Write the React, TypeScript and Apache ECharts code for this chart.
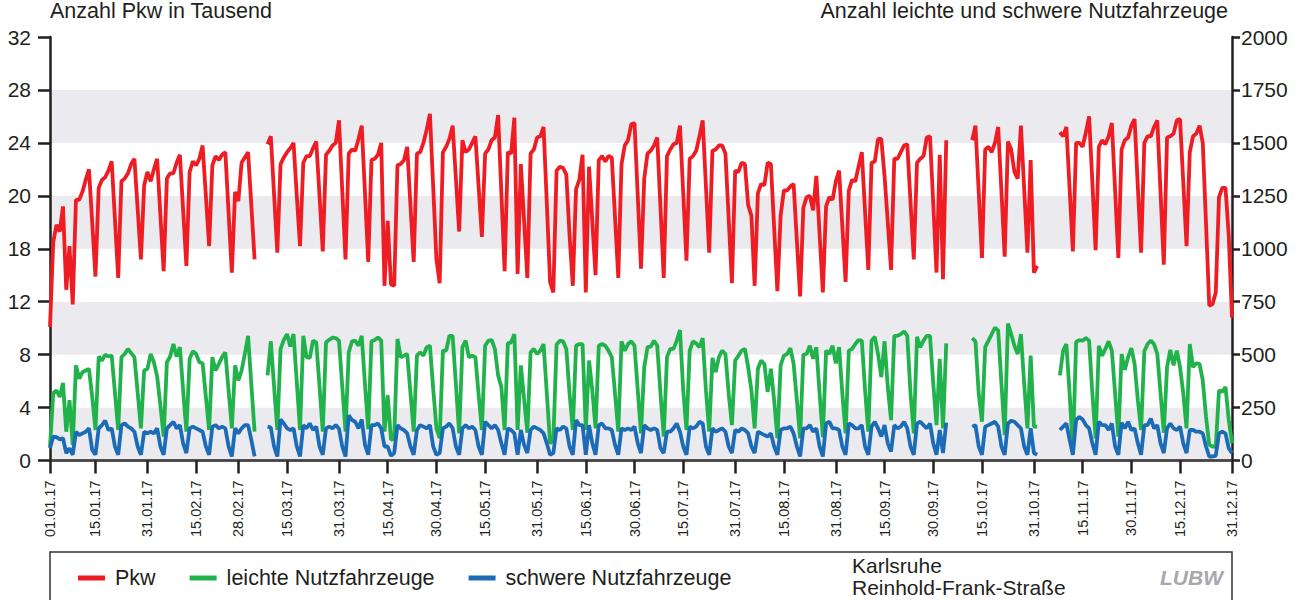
import React, { useEffect, useRef } from 'react';
import * as echarts from 'echarts';

// Pkw in Tausend (left axis), one value per day of 2017
const pkw: (number | null)[] = [
  // Jan
  10.1, 16.5, 17.8, 17.3, 19.2, 12.9, 16.2, 11.8, 19.7, 19.7, 20.3, 21.2, 22.0, 18.0, 13.9, 20.6, 21.2, 21.4, 21.9, 22.6, 18.2, 13.8, 21.1, 21.3, 21.7, 22.4, 22.8, 19.0, 15.2, 20.8, 21.8,
  // Feb
  21.1, 22.0, 22.8, 18.5, 14.3, 21.3, 21.7, 21.7, 22.5, 23.1, 18.9, 14.7, 21.8, 22.6, 22.3, 22.8, 23.8, 20.0, 16.2, 22.3, 23.0, 22.7, 23.1, 23.3, 18.7, 14.2, 20.3, 19.6,
  // Mar
  22.5, 22.9, 23.3, 19.3, 15.2, null, null, null, 23.9, 24.5, 20.1, 15.7, 22.4, 22.9, 23.3, 23.6, 24.0, 20.0, 16.2, 22.5, 23.0, 23.0, 23.6, 24.1, 20.0, 15.8, 23.1, 23.4, 23.8, 24.0, 25.7,
  // Apr
  20.4, 15.2, 23.2, 23.5, 23.4, 24.3, 25.3, 20.2, 15.0, 22.7, 22.8, 23.1, 24.0, 13.2, 18.1, 13.3, 13.2, 22.3, 22.4, 22.7, 23.7, 19.3, 15.0, 23.2, 23.3, 24.0, 25.0, 26.2, 20.7, 15.2,
  // May
  13.4, 23.3, 23.7, 24.3, 25.3, 21.3, 17.3, 24.2, 23.3, 23.5, 24.0, 24.5, 20.7, 16.9, 23.2, 23.5, 24.2, 24.4, 26.1, 20.2, 14.3, 23.3, 23.2, 25.9, 14.1, 22.4, 18.1, 13.8, 23.2, 23.5, 24.4,
  // Jun
  24.5, 25.2, 19.4, 13.5, 12.7, 21.9, 22.2, 22.1, 21.6, 17.0, 13.2, 20.5, 21.2, 23.1, 12.7, 22.2, 18.1, 14.0, 22.7, 23.0, 22.6, 23.0, 22.9, 18.4, 13.8, 22.4, 23.8, 24.2, 25.4, 25.5,
  // Jul
  20.0, 14.5, 21.3, 23.2, 23.4, 23.8, 24.4, 19.1, 13.8, 23.0, 23.5, 23.9, 24.0, 25.3, 20.2, 15.1, 22.8, 23.0, 23.4, 24.5, 25.7, 20.7, 15.7, 23.4, 23.5, 23.8, 23.8, 23.2, 18.3, 13.4, 21.9,
  // Aug
  21.8, 22.5, 22.4, 19.3, 18.5, 13.2, 20.2, 20.9, 20.8, 22.5, 22.4, 17.6, 12.8, 18.5, 20.4, 20.4, 20.7, 20.9, 16.6, 12.4, 19.1, 19.9, 20.0, 18.9, 21.5, 17.1, 12.7, 19.2, 19.9, 19.7, 21.1,
  // Sep
  21.9, 17.7, 13.5, 20.4, 21.2, 21.1, 22.2, 23.3, 18.8, 14.4, 22.5, 22.6, 24.3, 24.3, 21.5, 18.0, 14.4, 22.8, 22.8, 23.3, 23.8, 23.9, 19.5, 15.2, 22.5, 22.8, 23.0, 24.4, 24.5, 19.4,
  // Oct
  14.2, 23.1, 13.7, 24.2, null, null, null, null, null, null, null, 24.2, 25.3, 20.3, 15.3, 23.5, 23.7, 23.3, 24.0, 25.2, 20.3, 15.4, 24.1, 23.5, 21.8, 21.3, 25.3, 20.5, 15.7, 22.7, 14.2,
  // Nov
  14.7, null, null, null, null, null, null, 24.8, 24.5, 25.2, 20.5, 15.8, 24.0, 24.0, 23.7, 24.8, 26.0, 21.0, 15.9, 23.7, 24.2, 23.9, 24.5, 25.5, 20.4, 15.3, 23.5, 24.2, 24.4, 25.3,
  // Dec
  25.8, 20.7, 15.7, 24.0, 24.5, 24.5, 25.2, 25.7, 20.2, 14.8, 24.4, 24.5, 24.7, 25.7, 25.8, 21.0, 16.2, 23.3, 24.5, 24.7, 25.3, 24.0, 17.9, 11.7, 11.8, 12.7, 19.9, 20.6, 20.6, 17.0, 10.8,
];

// leichte Nutzfahrzeuge (right axis)
const lnf: (number | null)[] = [
  // Jan
  66, 319, 331, 300, 366, 136, 285, 74, 449, 386, 417, 425, 433, 300, 144, 491, 472, 500, 491, 496, 320, 144, 488, 503, 527, 507, 488, 320, 152, 425, 433,
  // Feb
  503, 464, 397, 260, 113, 464, 491, 550, 491, 535, 330, 136, 480, 516, 503, 464, 459, 300, 144, 488, 425, 456, 488, 511, 330, 152, 449, 378,
  // Mar
  425, 503, 589, 360, 136, null, null, null, 402, 563, 350, 144, 527, 569, 597, 538, 597, 370, 144, 589, 488, 485, 566, 558, 350, 136, 558, 570, 580, 578, 566,
  // Apr
  350, 136, 511, 563, 566, 542, 589, 360, 147, 563, 569, 581, 566, 136, 308, 97, 105, 574, 488, 495, 503, 320, 136, 495, 511, 495, 535, 542, 340, 152,
  // May
  105, 519, 519, 589, 589, 360, 128, 535, 566, 488, 495, 488, 310, 144, 542, 566, 569, 527, 402, 347, 144, 553, 558, 597, 144, 449, 290, 131, 511, 527, 503,
  // Jun
  519, 550, 316, 81, 97, 547, 566, 563, 527, 316, 144, 542, 550, 550, 144, 472, 331, 152, 542, 550, 542, 519, 488, 316, 136, 563, 519, 550, 563, 542,
  // Jul
  331, 128, 441, 535, 538, 566, 542, 316, 113, 488, 527, 527, 566, 616, 331, 144, 519, 563, 553, 535, 578, 331, 136, 485, 417, 488, 519, 503, 316, 167, 472,
  // Aug
  495, 519, 527, 441, 331, 152, 433, 472, 456, 324, 433, 285, 105, 449, 495, 503, 531, 456, 285, 105, 500, 503, 542, 480, 535, 316, 110, 519, 503, 542, 459,
  // Sep
  535, 316, 128, 519, 527, 550, 569, 566, 331, 136, 566, 584, 503, 394, 563, 347, 191, 589, 589, 597, 610, 589, 316, 128, 584, 535, 566, 589, 589, 363,
  // Oct
  167, 480, 152, 553, null, null, null, null, null, null, null, 578, 563, 316, 183, 535, 566, 597, 628, 613, 363, 120, 647, 597, 542, 503, 597, 363, 152, 495, 160,
  // Nov
  160, null, null, null, null, null, null, 402, 519, 550, 316, 50, 560, 569, 566, 578, 566, 316, 105, 542, 495, 527, 563, 519, 316, 113, 503, 428, 488, 531,
  // Dec
  456, 285, 144, 516, 550, 566, 550, 503, 316, 131, 441, 522, 449, 519, 441, 316, 152, 550, 441, 459, 456, 378, 206, 74, 66, 66, 331, 324, 347, 191, 81,
];

// schwere Nutzfahrzeuge (right axis)
const snf: (number | null)[] = [
  // Jan
  58, 113, 110, 100, 105, 35, 58, 27, 136, 120, 128, 136, 152, 50, 27, 152, 167, 188, 144, 152, 66, 27, 167, 175, 160, 152, 136, 66, 27, 136, 128,
  // Feb
  136, 128, 152, 66, 27, 152, 167, 183, 152, 167, 81, 35, 152, 160, 152, 144, 136, 66, 27, 160, 167, 152, 160, 152, 66, 19, 152, 128,
  // Mar
  152, 167, 167, 97, 19, null, null, null, 160, 156, 66, 19, 194, 175, 152, 144, 152, 66, 19, 167, 152, 175, 144, 160, 66, 27, 152, 160, 152, 167, 150,
  // Apr
  66, 19, 214, 191, 183, 152, 194, 74, 27, 167, 167, 175, 152, 66, 66, 22, 35, 167, 152, 144, 128, 66, 27, 144, 167, 160, 152, 167, 66, 27,
  // May
  35, 152, 160, 175, 152, 66, 27, 152, 167, 152, 160, 144, 66, 27, 183, 167, 152, 167, 144, 81, 27, 152, 144, 128, 27, 144, 74, 35, 144, 160, 152,
  // Jun
  144, 128, 81, 27, 35, 152, 144, 160, 152, 66, 27, 191, 167, 167, 27, 167, 81, 27, 167, 175, 152, 152, 144, 74, 27, 152, 144, 152, 144, 160,
  // Jul
  81, 35, 167, 152, 144, 152, 144, 58, 35, 136, 136, 152, 175, 136, 66, 27, 160, 152, 160, 183, 175, 66, 27, 152, 136, 144, 152, 136, 66, 35, 144,
  // Aug
  136, 152, 144, 128, 66, 35, 136, 128, 120, 113, 128, 66, 27, 144, 152, 152, 160, 128, 66, 19, 152, 152, 167, 136, 152, 66, 19, 175, 183, 152, 152,
  // Sep
  144, 66, 27, 175, 167, 152, 152, 167, 66, 27, 160, 183, 152, 113, 167, 81, 42, 167, 152, 160, 183, 152, 66, 27, 175, 183, 167, 152, 175, 81,
  // Oct
  27, 144, 35, 179, null, null, null, null, null, null, null, 160, 167, 66, 27, 160, 167, 175, 183, 160, 66, 27, 175, 188, 183, 167, 152, 66, 27, 152, 35,
  // Nov
  27, null, null, null, null, null, null, 144, 160, 175, 97, 27, 191, 206, 194, 167, 152, 81, 27, 183, 167, 167, 144, 175, 66, 27, 179, 152, 183, 144,
  // Dec
  152, 81, 27, 167, 167, 198, 152, 167, 81, 35, 152, 175, 152, 144, 160, 81, 35, 144, 144, 136, 136, 128, 66, 19, 19, 22, 128, 136, 128, 58, 35,
];

const tickDates = [
  '01.01.17', '15.01.17', '31.01.17', '15.02.17', '28.02.17', '15.03.17', '31.03.17', '15.04.17', '30.04.17',
  '15.05.17', '31.05.17', '15.06.17', '30.06.17', '15.07.17', '31.07.17', '15.08.17', '31.08.17', '15.09.17',
  '30.09.17', '15.10.17', '31.10.17', '15.11.17', '30.11.17', '15.12.17', '31.12.17',
];
const leftTickLabels = ['0', '4', '8', '12', '18', '20', '24', '28', '32'];
const seriesNames = ['Pkw', 'leichte Nutzfahrzeuge', 'schwere Nutzfahrzeuge'];
const seriesColors = ['#EE1D24', '#21B24B', '#1B6BB7'];

const days: string[] = (() => {
  const out: string[] = [];
  const start = Date.UTC(2017, 0, 1);
  for (let i = 0; i < 365; i++) {
    const d = new Date(start + i * 86400000);
    const dd = String(d.getUTCDate()).padStart(2, '0');
    const mm = String(d.getUTCMonth() + 1).padStart(2, '0');
    out.push(`${dd}.${mm}.17`);
  }
  return out;
})();

const FONT = '"Liberation Sans", Arial, Helvetica, sans-serif';
const INK = '#231F20';

export default function App() {
  const ref = useRef<HTMLDivElement>(null);
  useEffect(() => {
    if (!ref.current) return;
    const chart = echarts.init(ref.current, undefined, { renderer: 'svg' });
    const tickSet = new Set(tickDates);
    const showTick = (_i: number, v: string) => tickSet.has(v);
    const lineSeries = (i: number, data: (number | null)[], yAxisIndex: number) => ({
      name: seriesNames[i],
      type: 'line',
      xAxisIndex: 0,
      yAxisIndex,
      data,
      showSymbol: false,
      symbol: 'none',
      connectNulls: false,
      lineStyle: { color: seriesColors[i], width: 3.8 },
      itemStyle: { color: seriesColors[i] },
    });
    chart.setOption({
      animation: false,
      backgroundColor: '#ffffff',
      textStyle: { fontFamily: FONT, color: INK },
      grid: { left: 50, right: 74, top: 33.5, bottom: 139.5, containLabel: false },
      xAxis: [
        {
          type: 'category',
          data: days,
          boundaryGap: false,
          axisLine: { show: true, lineStyle: { color: INK, width: 2.5 } },
          axisTick: { show: true, interval: showTick, length: 13, inside: false, lineStyle: { color: INK, width: 2.5 } },
          axisLabel: {
            interval: showTick,
            rotate: 90,
            margin: 20,
            fontSize: 14.5,
            fontFamily: FONT,
            color: INK,
          },
          splitLine: { show: false },
        },
        {
          type: 'category',
          data: days,
          boundaryGap: false,
          position: 'top',
          axisLine: { show: true, lineStyle: { color: '#555555', width: 1.5 } },
          axisTick: { show: false },
          axisLabel: { show: false },
        },
      ],
      yAxis: [
        {
          type: 'value',
          min: 0,
          max: 32,
          interval: 4,
          position: 'left',
          name: 'Anzahl Pkw in Tausend',
          nameLocation: 'end',
          nameGap: 15,
          nameTextStyle: { align: 'left', fontSize: 21.5, fontFamily: FONT, color: INK },
          axisLine: { show: true, lineStyle: { color: INK, width: 2.5 } },
          axisTick: { show: true, length: 12, lineStyle: { color: INK, width: 2.5 } },
          axisLabel: {
            margin: 19,
            fontSize: 21,
            fontFamily: FONT,
            color: INK,
            formatter: (v: number) => leftTickLabels[Math.round(v / 4)] ?? String(v),
          },
          splitLine: { show: false },
          splitArea: { show: true, areaStyle: { color: ['#EBEBEF', '#FFFFFF'] } },
        },
        {
          type: 'value',
          min: 0,
          max: 2000,
          interval: 250,
          position: 'right',
          name: 'Anzahl leichte und schwere Nutzfahrzeuge',
          nameLocation: 'end',
          nameGap: 15,
          nameTextStyle: { align: 'right', fontSize: 21.5, fontFamily: FONT, color: INK, padding: [0, 4, 0, 0] },
          axisLine: { show: true, lineStyle: { color: INK, width: 2.5 } },
          axisTick: { show: true, length: 8, lineStyle: { color: INK, width: 2.5 } },
          axisLabel: { margin: 9, fontSize: 21, fontFamily: FONT, color: INK, formatter: (v: number) => String(v) },
          splitLine: { show: false },
        },
      ],
      legend: {
        left: 73,
        top: 561,
        icon: 'rect',
        itemWidth: 27,
        itemHeight: 5,
        itemGap: 34,
        data: seriesNames,
        textStyle: { fontSize: 21.5, fontFamily: FONT, color: INK, padding: [0, 0, 0, 5], lineHeight: 24 },
      },
      graphic: [
        {
          type: 'rect',
          shape: { x: 50, y: 552, width: 1182, height: 70 },
          style: { fill: 'none', stroke: '#333333', lineWidth: 1.5 },
          silent: true,
        },
        {
          type: 'text',
          x: 852,
          y: 555,
          style: { text: 'Karlsruhe', fontSize: 21, fontFamily: FONT, fill: INK },
        },
        {
          type: 'text',
          x: 852,
          y: 577,
          style: { text: 'Reinhold-Frank-Straße', fontSize: 21, fontFamily: FONT, fill: INK },
        },
        {
          type: 'text',
          x: 1160,
          y: 567,
          style: { text: 'LUBW', fontSize: 21, fontStyle: 'italic', fontWeight: 900, fontFamily: FONT, fill: '#A7A7AC' },
        },
      ],
      series: [lineSeries(0, pkw, 0), lineSeries(1, lnf, 1), lineSeries(2, snf, 1)],
    });
    return () => chart.dispose();
  }, []);
  return <div ref={ref} style={{ position: 'fixed', left: 0, top: 0, width: 1306, height: 600 }} />;
}
